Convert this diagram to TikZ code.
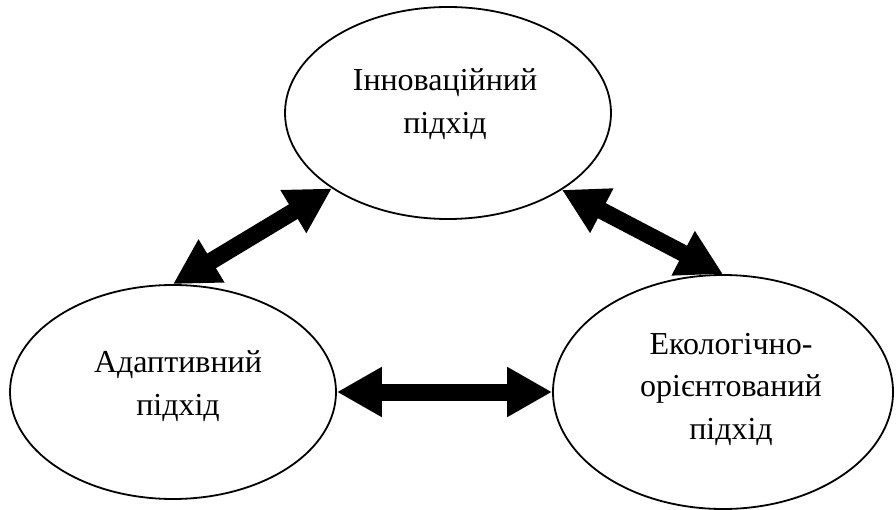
\documentclass[tikz,border=0pt]{standalone}
\usepackage{fontspec}
\setmainfont{Liberation Serif}
\usetikzlibrary{shapes.geometric,arrows.meta}
\tikzset{
  oval/.style={ellipse,draw,line width=1.8pt,inner sep=0pt},
  lbl/.style={align=center,inner sep=0pt,font=\fontsize{32}{42.5}\selectfont},
  bigarrow/.style={line width=17pt,
    {Triangle[length=45pt,width=47pt]}-{Triangle[length=45pt,width=47pt]}}
}
\begin{document}
\begin{tikzpicture}[x=1pt,y=-1pt]
\useasboundingbox (0,0) rectangle (896,510);
\node[oval,minimum width=326pt,minimum height=212pt] (T) at (448,113) {};
\node[oval,minimum width=326pt,minimum height=214pt] (L) at (173,392) {};
\node[oval,minimum width=340pt,minimum height=234pt] (R) at (723,392) {};
\node[lbl] (Tt) at (445,104) {Інноваційний\\підхід};
\node[lbl] (Lt) at (178,386) {Адаптивний\\підхід};
\node[lbl] (Rt) at (731,389) {Екологічно-\\орієнтований\\підхід};
\draw[bigarrow] (L.north) -- (T.213.5);
\draw[bigarrow] (T.326) -- (R.north);
\draw[bigarrow] (L.east) -- (R.west);
\end{tikzpicture}
\end{document}
